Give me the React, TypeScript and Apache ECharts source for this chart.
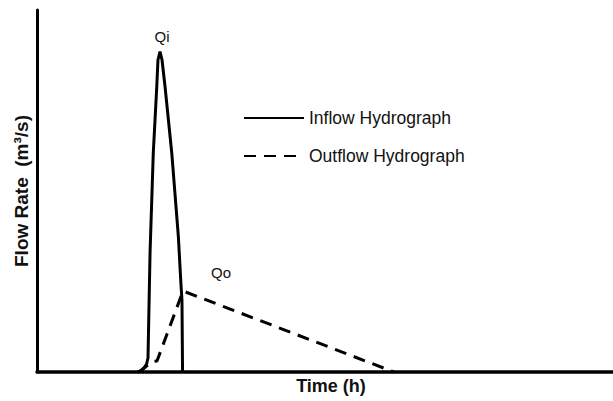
import React, { useEffect, useRef } from "react";
import * as echarts from "echarts";

// Time (h) and flow values (arbitrary units)
const inflowTime = [8.42, 8.67, 8.92, 9.13, 9.25, 9.42, 9.69, 9.98, 10.08, 10.25, 10.42, 10.67, 11.23, 11.78, 12.0, 12.08, 12.13];
const inflowFlow = [0, 0.41, 1.1, 2.21, 3.87, 32.87, 60.5, 78.81, 86.19, 88.48, 86.19, 78.81, 60.5, 37.38, 24.03, 19.89, 0];

const outflowTime = [8.42, 8.73, 9.56, 10.0, 12.17, 29.75];
const outflowFlow = [0, 0.55, 2.85, 3.04, 22.38, 0];

const seriesNames = ["Inflow Hydrograph", "Outflow Hydrograph"];
const peakLabels = ["Qi", "Qo"];
const xAxisTitle = "Time (h)";
const yAxisTitle = "Flow Rate  (m³/s)";

const FONT = "'Liberation Sans', Arial, sans-serif";

export default function App() {
  const ref = useRef<HTMLDivElement>(null);
  useEffect(() => {
    if (!ref.current) return;
    const chart = echarts.init(ref.current, null, { renderer: "svg" });
    const inflow = inflowTime.map((t, i) => [t, inflowFlow[i]]);
    const outflow = outflowTime.map((t, i) => [t, outflowFlow[i]]);
    const iPeak = inflowFlow.indexOf(Math.max(...inflowFlow));
    const oPeak = outflowFlow.indexOf(Math.max(...outflowFlow));
    chart.setOption({
      animation: false,
      backgroundColor: "#ffffff",
      grid: { left: 37, right: 0, top: 10, bottom: 29 },
      xAxis: {
        type: "value",
        min: 0,
        max: 48,
        name: xAxisTitle,
        nameLocation: "middle",
        nameGap: 5,
        nameTextStyle: { fontFamily: FONT, fontSize: 18, fontWeight: "bold", color: "#111", padding: [0, 0, 0, 12] },
        axisLine: { show: true, lineStyle: { color: "#000", width: 3.5 } },
        axisTick: { show: false },
        axisLabel: { show: false },
        splitLine: { show: false },
      },
      yAxis: {
        type: "value",
        min: 0,
        max: 100,
        name: yAxisTitle,
        nameLocation: "middle",
        nameRotate: 90,
        nameGap: 6,
        nameTextStyle: { fontFamily: FONT, fontSize: 19, fontWeight: "bold", color: "#111" },
        axisLine: { show: true, lineStyle: { color: "#000", width: 3 } },
        axisTick: { show: false },
        axisLabel: { show: false },
        splitLine: { show: false },
      },
      legend: {
        orient: "vertical",
        left: 238,
        top: 104,
        itemWidth: 60,
        itemHeight: 18,
        itemGap: 20,
        itemStyle: { color: "transparent", borderWidth: 0, opacity: 0 },
        textStyle: { fontFamily: FONT, fontSize: 17.5, color: "#111" },
        data: seriesNames,
      },
      series: [
        {
          name: seriesNames[0],
          type: "line",
          data: inflow,
          symbol: "none",
          lineStyle: { color: "#000", width: 3, type: "solid" },
          itemStyle: { color: "#000" },
          markPoint: {
            symbol: "circle",
            symbolSize: 0,
            data: [{ coord: inflow[iPeak], value: peakLabels[0] }],
            label: {
              show: true,
              formatter: peakLabels[0],
              position: "top",
              distance: 8,
              offset: [2, 0],
              fontFamily: FONT,
              fontSize: 15,
              color: "#111",
            },
          },
        },
        {
          name: seriesNames[1],
          type: "line",
          data: outflow,
          symbol: "none",
          lineStyle: { color: "#000", width: 3, type: [12, 8] },
          itemStyle: { color: "#000" },
          markPoint: {
            symbol: "circle",
            symbolSize: 0,
            data: [{ coord: outflow[oPeak], value: peakLabels[1] }],
            label: {
              show: true,
              formatter: peakLabels[1],
              position: "right",
              offset: [23, -18],
              fontFamily: FONT,
              fontSize: 15,
              color: "#111",
            },
          },
        },
      ],
    });
    return () => chart.dispose();
  }, []);
  return <div ref={ref} style={{ width: 613, height: 401, position: "absolute", left: 0, top: 0 }} />;
}
